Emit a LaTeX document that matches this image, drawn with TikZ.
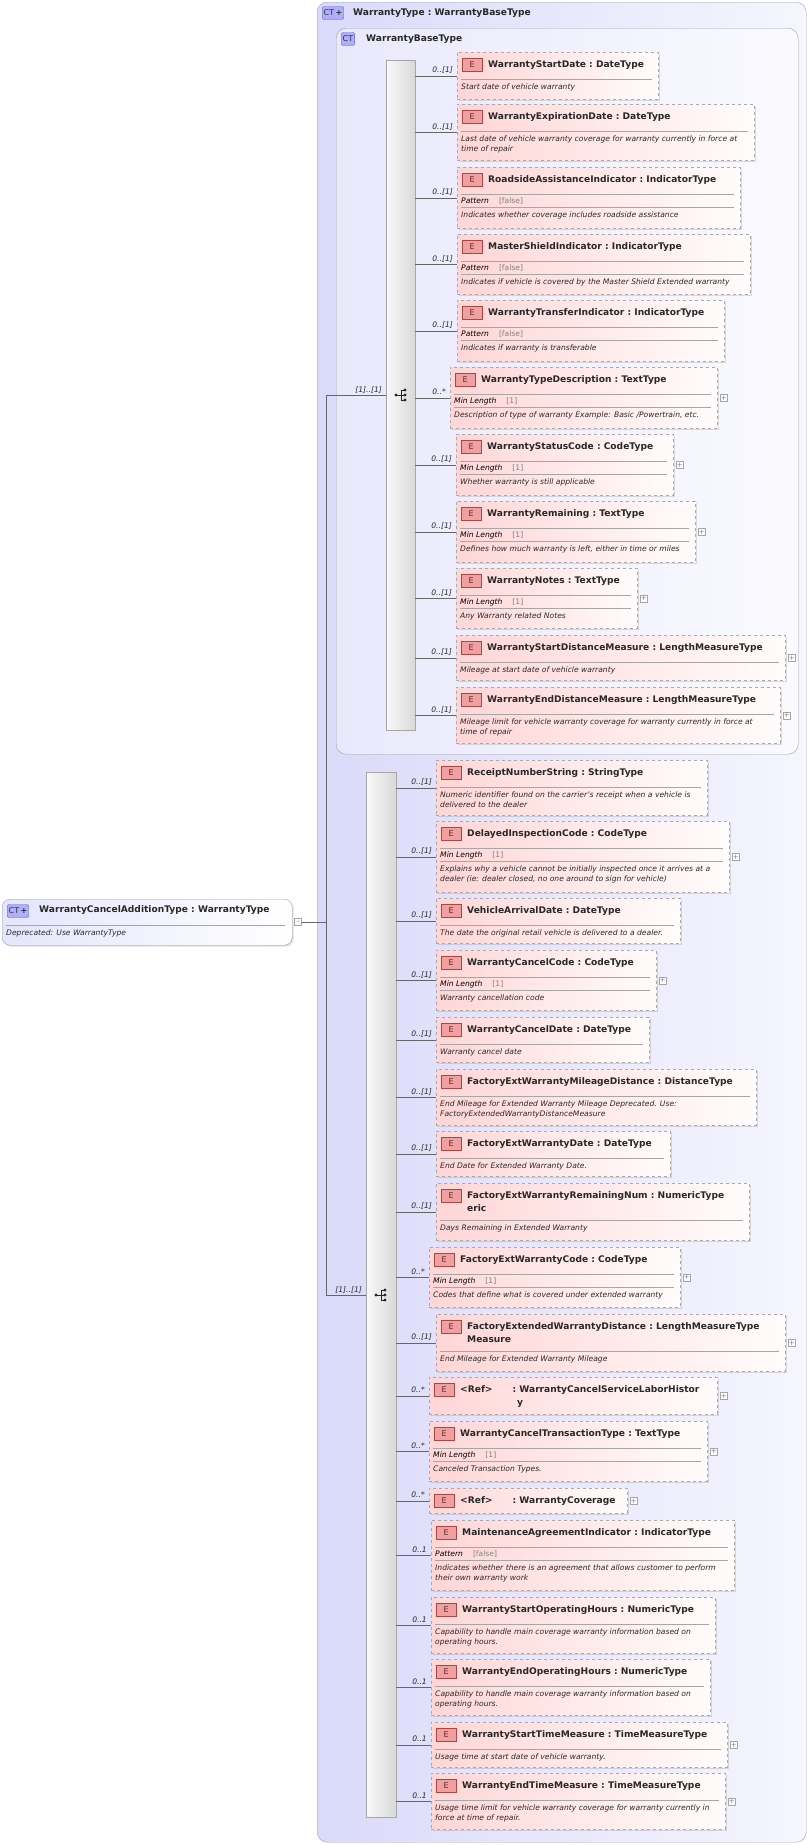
\documentclass[tikz,border=0pt]{standalone}
\usepackage{fontspec}
\setmainfont{DejaVu Sans}
\usetikzlibrary{shadows}
\definecolor{ctfill}{RGB}{218,218,250}
\definecolor{ctline}{RGB}{160,160,175}
\definecolor{elpink}{RGB}{255,214,214}
\definecolor{elline}{RGB}{170,170,170}
\definecolor{iconred}{RGB}{240,160,160}
\definecolor{iconline}{RGB}{170,70,70}
\definecolor{txt}{RGB}{40,40,40}

\tikzset{
  elbox/.style={draw=elline, dashed, thick, anchor=north west, inner sep=0pt,
    left color=elpink, right color=white!92!elpink,
    drop shadow={opacity=0.25, shadow xshift=1.5pt, shadow yshift=-1.5pt}},
  eicon/.style={draw=iconline, fill=iconred, minimum width=20pt, minimum height=13pt,
    inner sep=0pt, font=\fontsize{8}{8}\selectfont, text=iconline!60!black},
  etitle/.style={anchor=north west, inner sep=0pt, align=left, text=txt,
    font=\fontsize{9.1}{13}\selectfont\bfseries},
  edesc/.style={anchor=north west, inner sep=0pt, align=left, text=txt,
    font=\fontsize{7.6}{10}\selectfont\itshape},
  efacet/.style={anchor=base west, inner sep=0pt, text=black,
    font=\fontsize{7.6}{10}\selectfont\itshape},
  sep/.style={draw=gray!70, line width=0.6pt},
  conn/.style={draw=gray!80!black, line width=0.5pt},
  card/.style={anchor=base east, inner sep=0pt, text=txt,
    font=\fontsize{7.6}{10}\selectfont\itshape},
  plusbox/.style={draw=gray!70, fill=white, minimum size=7pt, inner sep=0pt,
    font=\fontsize{7}{7}\selectfont, text=gray},
  bar/.style={draw=gray!70, anchor=north west, inner sep=0pt,
    left color=gray!5, right color=gray!30},
  ctbox/.style={draw=ctline, rounded corners=10pt, anchor=north west, inner sep=0pt},
  cticon/.style={draw=ctline!60!blue, fill=ctfill!80!blue, rounded corners=2pt,
    minimum height=13pt, inner sep=1.5pt, font=\fontsize{8}{8}\selectfont, text=ctline!30!black},
  seqicon/.pic={
    \fill[gray!30!black] (-6,0) circle (1.7);
    \draw[gray!30!black, line width=0.8pt] (-6,0) -- (-1,0)
      (-1,-5) -- (-1,5) (-1,-5) -- (3,-5) (-1,0) -- (3,0) (-1,5) -- (3,5);
    \foreach \yy in {-5,0,5} \fill[gray!30!black] (3,\yy) circle (1.7);
  }
}

% name, x, y, w, h, title offset, title, facet, description
\newcommand\elem[9]{%
  \node[elbox, minimum width=#4pt, minimum height=#5pt] (#1) at (#2,#3) {};
  \node[eicon, anchor=north west] at ({#2+5},{#3+6}) {E};
  \node[etitle] at ({#2+31},{#3+8.5}) {#7};
  \if\relax\detokenize{#9}\relax\else
    \draw[sep] ({#2+4},{#3+27+#6}) -- ({#2+#4-6},{#3+27+#6});
    \if\relax\detokenize{#8}\relax
      \node[edesc] at ({#2+4},{#3+31.5+#6}) {#9};
    \else
      \node[efacet] at ({#2+4},{#3+36+#6}) {#8};
      \draw[sep] ({#2+4},{#3+40+#6}) -- ({#2+#4-6},{#3+40+#6});
      \node[edesc] at ({#2+4},{#3+44.5+#6}) {#9};
    \fi
  \fi
}
\newcommand\pat{Pattern\hspace{10pt}\textcolor{gray}{\upshape[false]}}
\newcommand\minl{Min Length\hspace{10pt}\textcolor{gray}{\upshape[1]}}
% bar, element, cardinality
\newcommand\lnk[3]{%
  \draw[conn] (#1.east |- #2.west) -- (#2.west);
  \node[card] at ([xshift=-4pt, yshift=3pt]#2.west) {#3};
}
\newcommand\plusof[1]{\node[plusbox] at ([xshift=6pt]#1.east) {+};}

\begin{document}
\begin{tikzpicture}[x=1pt, y=-1pt]
\useasboundingbox (0,0) rectangle (811,1845);

% outer complex type
\node[ctbox, minimum width=489pt, minimum height=1840pt,
  left color=ctfill, right color=ctfill!25!white] (wt) at (317,2) {};
\node[cticon, anchor=west] (wti) at (322,13) {CT\,\textbf{+}};
\node[etitle, anchor=west] at (353,13) {WarrantyType\ :\ WarrantyBaseType};

% inner base type
\node[ctbox, minimum width=462pt, minimum height=726pt,
  left color=ctfill!60!white, right color=ctfill!15!white] (wb) at (336,28) {};
\node[cticon, anchor=west] (wbi) at (341,39) {CT};
\node[etitle, anchor=west] at (366,39) {WarrantyBaseType};

% root
\node[ctbox, rounded corners=8pt, minimum width=290pt, minimum height=46pt,
  left color=ctfill!70!white, right color=white,
  drop shadow={opacity=0.25, shadow xshift=1.5pt, shadow yshift=-1.5pt}] (root) at (2,899) {};
\node[cticon, anchor=west] at (7,911) {CT\,\textbf{+}};
\node[etitle, anchor=west] at (39,910) {WarrantyCancelAdditionType\ :\ WarrantyType};
\draw[sep] (6,925) -- (285,925);
\node[edesc] at (6,929.5) {Deprecated: Use WarrantyType};
\node[plusbox] (rmin) at (298,922) {--};

% sequences
\node[bar, minimum width=29pt, minimum height=670pt] (s1) at (386,60) {};
\node[bar, minimum width=30pt, minimum height=1045pt] (s2) at (366,772) {};
\pic at (402,395) {seqicon};
\pic at (382,1295) {seqicon};

\coordinate (j1) at (326,395);
\coordinate (j2) at (326,1295);
\coordinate (jr) at (326,922);
\draw[conn] (rmin.east) -- (jr);
\draw[conn] (j1) -- (j2);
\draw[conn] (j1) -- (s1.west |- j1);
\draw[conn] (j2) -- (s2.west |- j2);
\node[card, anchor=base east] at (382,392) {[1]..[1]};
\node[card, anchor=base east] at (362,1292) {[1]..[1]};

% elements of WarrantyBaseType
\elem{e1}{457}{52}{201}{47}{0}{WarrantyStartDate\ :\ DateType}{}{Start date of vehicle warranty}
\elem{e2}{457}{104}{297}{56}{0}{WarrantyExpirationDate\ :\ DateType}{}{Last date of vehicle warranty coverage for warranty currently in force at\\time of repair}
\elem{e3}{457}{167}{283}{61}{0}{RoadsideAssistanceIndicator\ :\ IndicatorType}{\pat}{Indicates whether coverage includes roadside assistance}
\elem{e4}{457}{234}{293}{60}{0}{MasterShieldIndicator\ :\ IndicatorType}{\pat}{Indicates if vehicle is covered by the Master Shield Extended warranty}
\elem{e5}{457}{300}{267}{61}{0}{WarrantyTransferIndicator\ :\ IndicatorType}{\pat}{Indicates if warranty is transferable}
\elem{e6}{450}{367}{267}{61}{0}{WarrantyTypeDescription\ :\ TextType}{\minl}{Description of type of warranty Example: Basic /Powertrain, etc.}
\elem{e7}{456}{434}{217}{61}{0}{WarrantyStatusCode\ :\ CodeType}{\minl}{Whether warranty is still applicable}
\elem{e8}{456}{501}{239}{61}{0}{WarrantyRemaining\ :\ TextType}{\minl}{Defines how much warranty is left, either in time or miles}
\elem{e9}{456}{568}{181}{60}{0}{WarrantyNotes\ :\ TextType}{\minl}{Any Warranty related Notes}
\elem{e10}{456}{635}{329}{45}{0}{WarrantyStartDistanceMeasure\ :\ LengthMeasureType}{}{Mileage at start date of vehicle warranty}
\elem{e11}{456}{687}{324}{56}{0}{WarrantyEndDistanceMeasure\ :\ LengthMeasureType}{}{Mileage limit for vehicle warranty coverage for warranty currently in force at\\time of repair}

\lnk{s1}{e1}{0..[1]} \lnk{s1}{e2}{0..[1]} \lnk{s1}{e3}{0..[1]}
\lnk{s1}{e4}{0..[1]} \lnk{s1}{e5}{0..[1]} \lnk{s1}{e6}{0..*}
\lnk{s1}{e7}{0..[1]} \lnk{s1}{e8}{0..[1]} \lnk{s1}{e9}{0..[1]}
\lnk{s1}{e10}{0..[1]} \lnk{s1}{e11}{0..[1]}
\plusof{e6} \plusof{e7} \plusof{e8} \plusof{e9} \plusof{e10} \plusof{e11}

% elements of WarrantyCancelAdditionType
\elem{e12}{436}{760}{271}{55}{0}{ReceiptNumberString\ :\ StringType}{}{Numeric identifier found on the carrier's receipt when a vehicle is\\delivered to the dealer}
\elem{e13}{436}{821}{293}{71}{0}{DelayedInspectionCode\ :\ CodeType}{\minl}{Explains why a vehicle cannot be initially inspected once it arrives at a\\dealer (ie: dealer closed, no one around to sign for vehicle)}
\elem{e14}{436}{898}{244}{45}{0}{VehicleArrivalDate\ :\ DateType}{}{The date the original retail vehicle is delivered to a dealer.}
\elem{e15}{436}{950}{220}{60}{0}{WarrantyCancelCode\ :\ CodeType}{\minl}{Warranty cancellation code}
\elem{e16}{436}{1017}{213}{45}{0}{WarrantyCancelDate\ :\ DateType}{}{Warranty cancel date}
\elem{e17}{436}{1069}{320}{56}{0}{FactoryExtWarrantyMileageDistance\ :\ DistanceType}{}{End Mileage for Extended Warranty Mileage Deprecated. Use:\\FactoryExtendedWarrantyDistanceMeasure}
\elem{e18}{436}{1131}{234}{45}{0}{FactoryExtWarrantyDate\ :\ DateType}{}{End Date for Extended Warranty Date.}
\elem{e19}{436}{1183}{313}{57}{10}{FactoryExtWarrantyRemainingNum\ :\ NumericType\\eric}{}{Days Remaining in Extended Warranty}
\elem{e20}{429}{1247}{251}{60}{0}{FactoryExtWarrantyCode\ :\ CodeType}{\minl}{Codes that define what is covered under extended warranty}
\elem{e21}{436}{1314}{349}{57}{10}{FactoryExtendedWarrantyDistance\ :\ LengthMeasureType\\Measure}{}{End Mileage for Extended Warranty Mileage}
\elem{e22}{429}{1377}{288}{37}{0}{<Ref>\hspace{20pt}:\ WarrantyCancelServiceLaborHistor\\\hspace{57pt}y}{}{}
\elem{e23}{429}{1421}{278}{60}{0}{WarrantyCancelTransactionType\ :\ TextType}{\minl}{Canceled Transaction Types.}
\elem{e24}{429}{1488}{198}{25}{0}{<Ref>\hspace{20pt}:\ WarrantyCoverage}{}{}
\elem{e25}{431}{1520}{303}{70}{0}{MaintenanceAgreementIndicator\ :\ IndicatorType}{\pat}{Indicates whether there is an agreement that allows customer to perform\\their own warranty work}
\elem{e26}{431}{1597}{284}{56}{0}{WarrantyStartOperatingHours\ :\ NumericType}{}{Capability to handle main coverage warranty information based on\\operating hours.}
\elem{e27}{431}{1659}{279}{56}{0}{WarrantyEndOperatingHours\ :\ NumericType}{}{Capability to handle main coverage warranty information based on\\operating hours.}
\elem{e28}{431}{1722}{296}{45}{0}{WarrantyStartTimeMeasure\ :\ TimeMeasureType}{}{Usage time at start date of vehicle warranty.}
\elem{e29}{431}{1773}{294}{56}{0}{WarrantyEndTimeMeasure\ :\ TimeMeasureType}{}{Usage time limit for vehicle warranty coverage for warranty currently in\\force at time of repair.}

\lnk{s2}{e12}{0..[1]} \lnk{s2}{e13}{0..[1]} \lnk{s2}{e14}{0..[1]}
\lnk{s2}{e15}{0..[1]} \lnk{s2}{e16}{0..[1]} \lnk{s2}{e17}{0..[1]}
\lnk{s2}{e18}{0..[1]} \lnk{s2}{e19}{0..[1]} \lnk{s2}{e20}{0..*}
\lnk{s2}{e21}{0..[1]} \lnk{s2}{e22}{0..*} \lnk{s2}{e23}{0..*}
\lnk{s2}{e24}{0..*} \lnk{s2}{e25}{0..1} \lnk{s2}{e26}{0..1}
\lnk{s2}{e27}{0..1} \lnk{s2}{e28}{0..1} \lnk{s2}{e29}{0..1}
\plusof{e13} \plusof{e15} \plusof{e20} \plusof{e21} \plusof{e22}
\plusof{e23} \plusof{e24} \plusof{e28} \plusof{e29}
\end{tikzpicture}
\end{document}
